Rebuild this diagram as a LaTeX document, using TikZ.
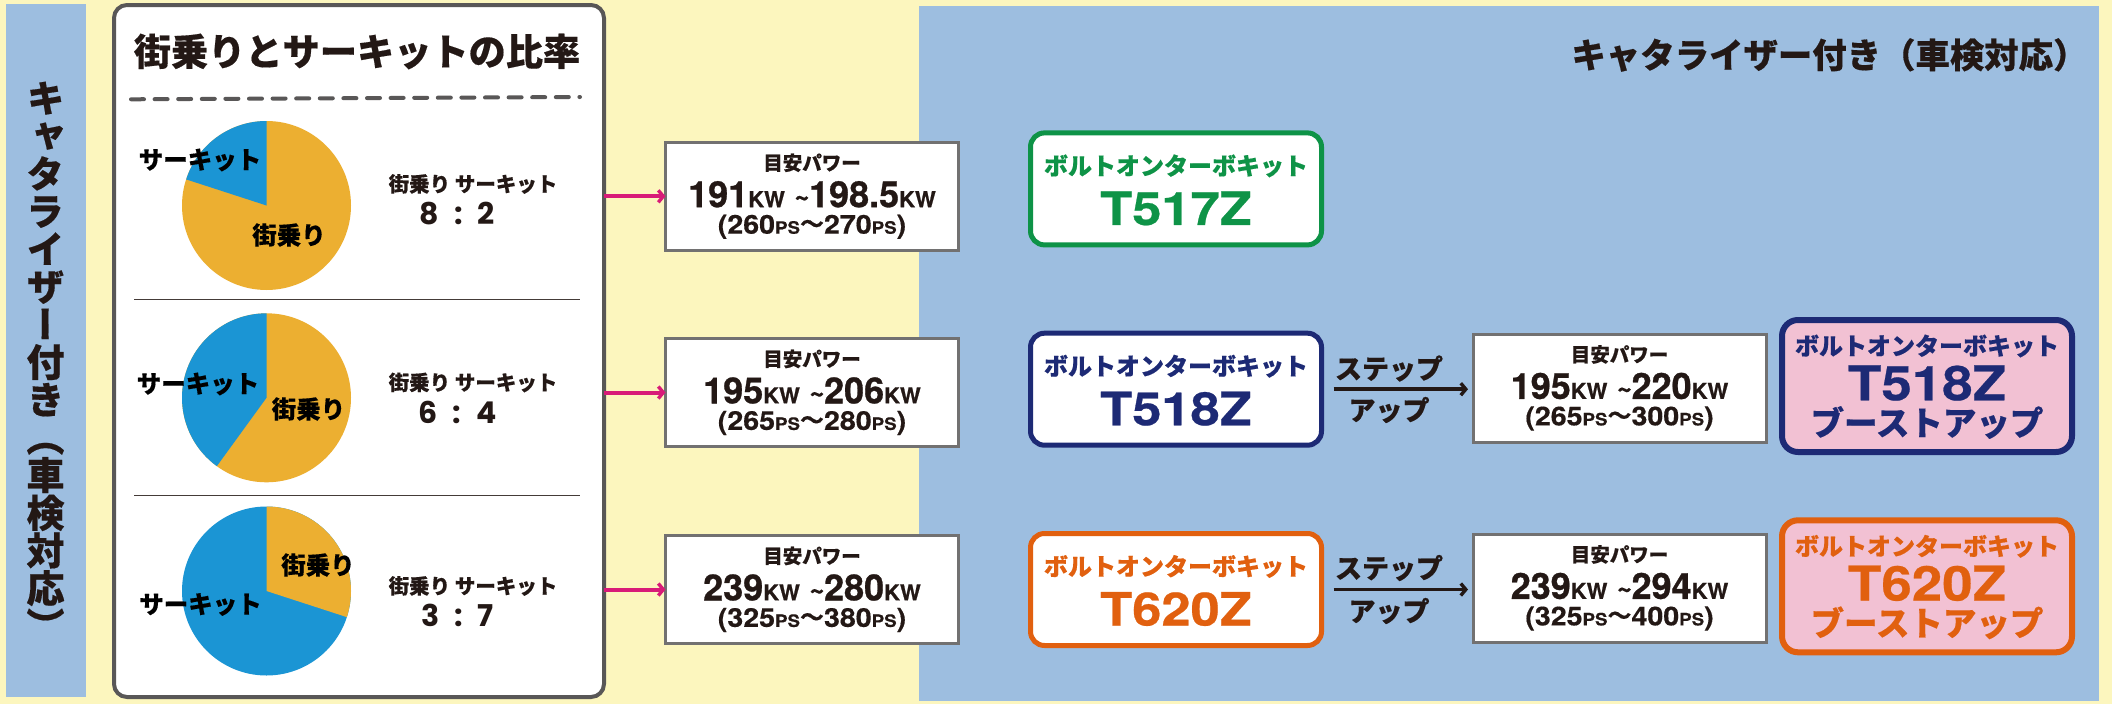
\documentclass[tikz,border=0pt]{standalone}
\usepackage{fontspec}
\usetikzlibrary{arrows.meta}
\newfontfamily\jpb[FakeBold=0.4]{Noto Sans CJK JP Black}
\newfontfamily\jpv[RawFeature=+vert,FakeBold=0.4]{Noto Sans CJK JP Black}
\newfontfamily\wide{Poppins}
\newfontfamily\numf[BoldFeatures={FakeBold=0.8}]{TeX Gyre Heros}
\newfontfamily\numw[BoldFeatures={FakeBold=0.5,FakeStretch=1.14}]{TeX Gyre Heros}
\newfontfamily\nums[BoldFeatures={FakeBold=0.4,FakeStretch=1.1}]{TeX Gyre Heros}
\definecolor{bgyellow}{HTML}{FCF6BE}
\definecolor{bgblue}{HTML}{9DBEE0}
\definecolor{ink}{HTML}{231815}
\definecolor{cardgray}{HTML}{595757}
\definecolor{boxgray}{HTML}{727171}
\definecolor{piegold}{HTML}{ECAF31}
\definecolor{pieblue}{HTML}{1B95D4}
\definecolor{magentaline}{HTML}{D81B78}
\definecolor{mgreen}{HTML}{0E9347}
\definecolor{mnavy}{HTML}{1D2A75}
\definecolor{morange}{HTML}{E1600F}
\definecolor{boostpink}{HTML}{F2C1D3}
\newcommand{\fs}[1]{\fontsize{#1}{#1}\selectfont}
\newcommand{\KW}{{\fs{22}KW}}
\newcommand{\PS}{{\fs{17}PS}}
\newcommand{\TLD}{{\jpb\fs{24}\string~}}
\newcommand{\WV}{{\jpb\fs{24}\raisebox{1pt}{～}}}
\tikzset{
  txt/.style={inner sep=0pt,outer sep=0pt,text=ink,font=\jpb},
  powerbox/.style={draw=boxgray,fill=white,line width=3pt,inner sep=0pt,outer sep=0pt,minimum width=293pt,minimum height=108pt},
  modelbox/.style={draw=#1,fill=white,line width=5pt,rounded corners=14pt,inner sep=0pt,outer sep=0pt,minimum width=291pt,minimum height=112pt},
  boostbox/.style={draw=#1,fill=boostpink,line width=6pt,rounded corners=16pt,inner sep=0pt,outer sep=0pt,minimum width=290pt,minimum height=132pt},
  feed/.style={draw=magentaline,line width=4pt,-{Straight Barb[length=5pt,width=12pt,line width=3.4pt]}},
  stepline/.style={draw=ink,line width=3.6pt,-{Straight Barb[length=5pt,width=12pt,line width=3.4pt]}},
}
% name, x, y, big line, small line
\newcommand{\powernode}[5]{%
  \node[powerbox] (#1) at (#2,-#3) {};
  \node[txt,font=\jpb\fs{19.5}] (#1a) at ([yshift=33.5pt]#1.center) {目安パワー};
  \node[txt,font=\numf\bfseries\fs{36}] (#1b) at ([yshift=2pt]#1.center) {#4};
  \node[txt,font=\nums\bfseries\fs{26}] (#1c) at ([yshift=-30.5pt]#1.center) {#5};
}
% name, y, colour, model
\newcommand{\modelnode}[4]{%
  \node[modelbox=#3] (#1) at (1176,-#2) {};
  \node[txt,text=#3,font=\jpb\fs{24}] (#1a) at ([yshift=23pt]#1.center) {ボルトオンターボキット};
  \node[txt,text=#3,font=\numw\bfseries\fs{46}] (#1b) at ([yshift=-19.5pt]#1.center) {#4};
}
\newcommand{\boostnode}[4]{%
  \node[boostbox=#3] (#1) at (1927,-#2) {};
  \node[txt,text=#3,font=\jpb\fs{24}] (#1a) at ([yshift=40pt]#1.center) {ボルトオンターボキット};
  \node[txt,text=#3,font=\numw\bfseries\fs{48}] (#1b) at ([yshift=3pt]#1.center) {#4};
  \node[txt,text=#3,font=\jpb\fs{33.5}] (#1c) at ([yshift=-36.5pt]#1.center) {ブーストアップ};
}
% name, y1, y2, ratio
\newcommand{\rationode}[4]{%
  \node[txt,font=\jpb\fs{20.5}] (#1a) at (473,-#2) {街乗り サーキット};
  \node[txt,font=\wide\bfseries\fs{30}] (#1b) at (457.5,-#3) {#4};
}
\begin{document}
\begin{tikzpicture}[x=1pt,y=1pt]
\useasboundingbox (0,0) rectangle (2112,-704);
\fill[bgyellow] (0,0) rectangle (2112,-704);
\fill[bgblue] (6,-4) rectangle (86,-697);
\fill[bgblue] (919,-6) rectangle (2099,-701);
% left vertical title
\node[txt,align=center,font={\jpv\fontsize{38}{37.7}\selectfont}] (vtitle) at (45.5,-361)
 {キ\\ャ\\タ\\ラ\\イ\\ザ\\ー\\付\\き\\（\\車\\検\\対\\応\\）};
% card
\node[draw=cardgray,fill=white,line width=4pt,rounded corners=13pt,inner sep=0pt,outer sep=0pt,minimum width=490pt,minimum height=692pt] (card) at (359,-351) {};
\node[txt,font=\jpb\fs{37.2}] (cardtitle) at (357,-51.5) {街乗りとサーキットの比率};
\draw[cardgray,line width=4pt,line cap=round,dash pattern=on 13pt off 10.6pt] (131,-99.3) -- (580,-97);
\draw[ink!85!white,line width=1.4pt] (134,-299.5) -- (580,-299.5);
\draw[ink!85!white,line width=1.4pt] (134,-495.5) -- (580,-495.5);
% pies
\fill[piegold] (266.5,-205.5) circle[radius=84.5];
\fill[pieblue] (266.5,-205.5) -- ++(90:84.5) arc[start angle=90,end angle=162,radius=84.5] -- cycle;
\fill[piegold] (266.5,-397.8) circle[radius=84.5];
\fill[pieblue] (266.5,-397.8) -- ++(90:84.5) arc[start angle=90,end angle=234,radius=84.5] -- cycle;
\fill[pieblue] (266.5,-591) circle[radius=84.5];
\fill[piegold] (266.5,-591) -- ++(90:84.5) arc[start angle=90,end angle=-18,radius=84.5] -- cycle;
\node[txt,text=black,font=\jpb\fs{24.5}] (c1) at (200,-160) {サーキット};
\node[txt,text=black,font=\jpb\fs{24.5}] (s1) at (289,-235) {街乗り};
\node[txt,text=black,font=\jpb\fs{24.5}] (c2) at (198,-384) {サーキット};
\node[txt,text=black,font=\jpb\fs{24.5}] (s2) at (308.5,-409) {街乗り};
\node[txt,text=black,font=\jpb\fs{24.5}] (c3) at (200.5,-604.5) {サーキット};
\node[txt,text=black,font=\jpb\fs{24.5}] (s3) at (318,-565) {街乗り};
\rationode{ra}{184}{214}{8\,\,\,:\,\,\,2}
\rationode{rb}{382.5}{412}{6\,\,\,:\,\,\,4}
\rationode{rc}{586}{615}{3\,\,\,:\,\,\,7}
% heading
\node[txt,anchor=east,font=\jpb\fs{34.4}] (rtitle) at (2087.5,-55) {キャタライザー付き（車検対応）};
% power boxes
\powernode{pa}{812}{196.3}{191\KW\ \TLD198.5\KW}{(260\PS\WV270\PS)}
\powernode{pb}{812}{392.5}{195\KW\ \TLD206\KW}{(265\PS\WV280\PS)}
\powernode{pc}{812}{589.5}{239\KW\ \TLD280\KW}{(325\PS\WV380\PS)}
\powernode{qb}{1619.5}{388}{195\KW\ \TLD220\KW}{(265\PS\WV300\PS)}
\powernode{qc}{1619.5}{588}{239\KW\ \TLD294\KW}{(325\PS\WV400\PS)}
% model boxes
\modelnode{ma}{188.9}{mgreen}{T517Z}
\modelnode{mb}{389.2}{mnavy}{T518Z}
\modelnode{mc}{589.5}{morange}{T620Z}
\boostnode{bb}{386}{mnavy}{T518Z}
\boostnode{bc}{586.3}{morange}{T620Z}
% feed arrows
\draw[feed] (pa.west -| card.east) -- (pa.west);
\draw[feed] (pb.west -| card.east) -- (pb.west);
\draw[feed] (pc.west -| card.east) -- (pc.west);
% step up
\draw[stepline,shorten <=12pt,shorten >=5pt] (mb.east) -- (mb.east -| qb.west);
\draw[stepline,shorten <=12pt,shorten >=5pt] (mc.east) -- (mc.east -| qc.west);
\node[txt,font=\jpb\fs{27}] (sb1) at (1389,-368.5) {ステップ};
\node[txt,font=\jpb\fs{27}] (sb2) at (1389,-410) {アップ};
\node[txt,font=\jpb\fs{27}] (sc1) at (1389,-568) {ステップ};
\node[txt,font=\jpb\fs{27}] (sc2) at (1389,-611) {アップ};
\end{tikzpicture}
\end{document}
